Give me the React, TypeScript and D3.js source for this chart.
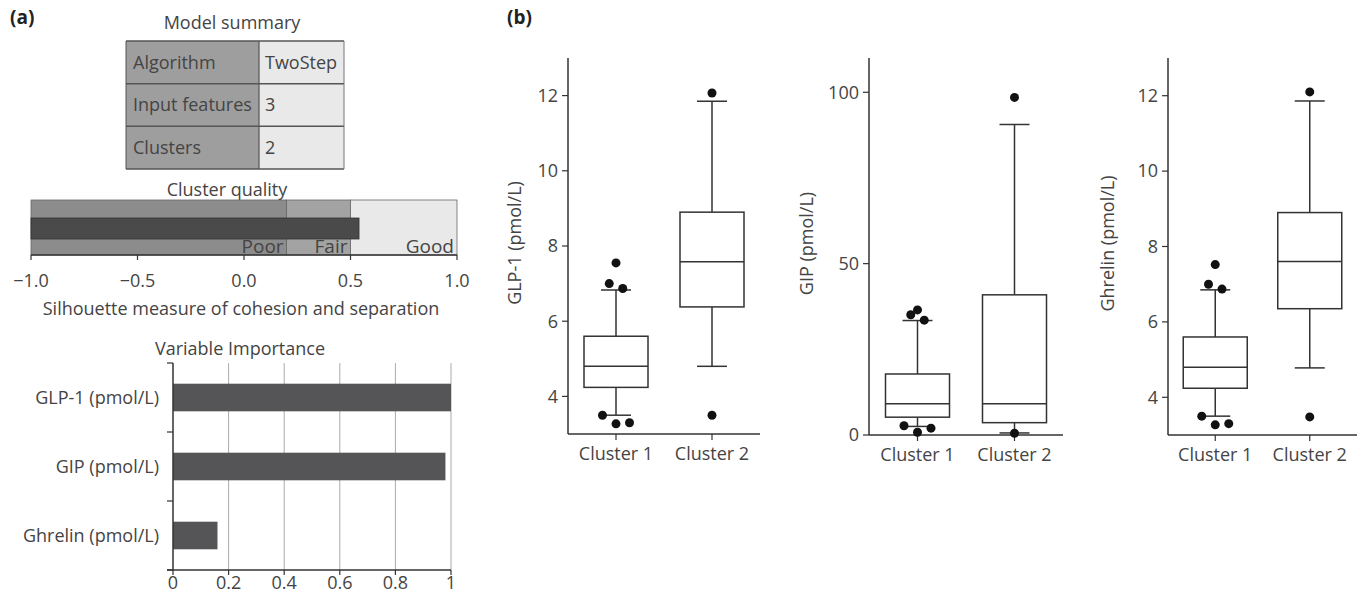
import React from 'react';
import * as d3 from 'd3';

// ---- data ----
const summaryLabels = ['Algorithm', 'Input features', 'Clusters'];
const summaryValues = ['TwoStep', '3', '2'];

const qualityNames = ['Poor', 'Fair', 'Good'];
const qualityLimits = [-1, 0.2, 0.5, 1];
const silhouette = 0.54;
const qualityTicks = [-1, -0.5, 0, 0.5, 1];

const importanceVars = ['GLP-1 (pmol/L)', 'GIP (pmol/L)', 'Ghrelin (pmol/L)'];
const importanceValues = [1, 0.98, 0.16];
const importanceTicks = [0, 0.2, 0.4, 0.6, 0.8, 1];

const clusters = ['Cluster 1', 'Cluster 2'];

// [lower whisker, q1, median, q3, upper whisker]
const glp1Stats = [[3.5, 4.24, 4.8, 5.6, 6.83], [4.8, 6.38, 7.58, 8.9, 11.85]];
const glp1Outliers = [[7.55, 7.0, 6.87, 3.5, 3.27, 3.3], [12.07, 3.5]];
const gipStats = [[2.5, 5.2, 9.1, 17.8, 33.4], [0.6, 3.6, 9.1, 40.9, 90.6]];
const gipOutliers = [[36.5, 35.1, 33.5, 2.7, 0.8, 2.0], [98.5, 0.5]];
const ghrelinStats = [[3.5, 4.24, 4.8, 5.6, 6.85], [4.78, 6.35, 7.6, 8.9, 11.86]];
const ghrelinOutliers = [[7.52, 7.0, 6.87, 3.5, 3.27, 3.3], [12.1, 3.48]];
// horizontal dodge of outlier dots (in dot widths)
const outlierDodge = [[0, -0.75, 0.75, -1.5, 0, 1.5], [0, 0]];

const font = '"Open Sans", "DejaVu Sans", sans-serif';
const ink = '#444';
const line = '#333';
const fs = 18;

function ModelSummary() {
  const x0 = 126, x1 = 259, x2 = 344;
  const y = d3.scaleBand().domain(summaryLabels).range([41, 169]);
  return (
    <g>
      <text x={232} y={29} textAnchor="middle" fontSize={fs} fill={ink}>Model summary</text>
      {summaryLabels.map((lab, i) => (
        <g key={lab}>
          <rect x={x0} y={y(lab)} width={x1 - x0} height={y.bandwidth()} fill="#9e9e9e" />
          <rect x={x1} y={y(lab)} width={x2 - x1} height={y.bandwidth()} fill="#e9e9e9" />
          <text x={x0 + 7} y={y(lab)! + y.bandwidth() / 2} dy="0.35em" fontSize={fs} fill={ink}>{lab}</text>
          <text x={x1 + 6} y={y(lab)! + y.bandwidth() / 2} dy="0.35em" fontSize={fs} fill={ink}>{summaryValues[i]}</text>
          <line x1={x0} x2={x2} y1={y(lab)} y2={y(lab)} stroke="#555" strokeWidth={1.5} />
        </g>
      ))}
      <line x1={x0} x2={x2} y1={169} y2={169} stroke="#555" strokeWidth={1.5} />
      <line x1={x0} x2={x0} y1={41} y2={169} stroke="#555" strokeWidth={1} />
      <line x1={x1} x2={x1} y1={41} y2={169} stroke="#555" strokeWidth={1.2} />
      <line x1={x2} x2={x2} y1={41} y2={169} stroke="#777" strokeWidth={1} />
    </g>
  );
}

function ClusterQuality() {
  const x = d3.scaleLinear().domain([-1, 1]).range([31, 457]);
  const top = 200, bottom = 255;
  const bandFill = ['#8c8c8c', '#a3a3a3', '#e9e9e9'];
  const fmt = d3.format('.1f');
  return (
    <g>
      <text x={227} y={196} textAnchor="middle" fontSize={fs} fill={ink}>Cluster quality</text>
      {qualityNames.map((nm, i) => (
        <rect key={nm} x={x(qualityLimits[i])} y={top} width={x(qualityLimits[i + 1]) - x(qualityLimits[i])} height={bottom - top}
          fill={bandFill[i]} stroke="#666" strokeWidth={0.8} />
      ))}
      <rect x={x(-1)} y={218} width={x(silhouette) - x(-1)} height={21} fill="#4a4a4a" stroke="#333" strokeWidth={0.8} />
      {qualityNames.map((nm, i) => (
        <text key={nm} x={x(qualityLimits[i + 1]) - 3} y={253} textAnchor="end" fontSize={fs + 1} fill={ink}>{nm}</text>
      ))}
      <line x1={x(-1)} x2={x(1)} y1={bottom} y2={bottom} stroke={line} strokeWidth={1.5} />
      {qualityTicks.map(t => (
        <g key={t}>
          <line x1={x(t)} x2={x(t)} y1={bottom} y2={bottom + 5} stroke={line} strokeWidth={1.2} />
          <text x={x(t)} y={287} textAnchor="middle" fontSize={fs} fill={ink}>{fmt(t)}</text>
        </g>
      ))}
      <text x={x(0) - 3} y={315} textAnchor="middle" fontSize={fs} fill={ink}>Silhouette measure of cohesion and separation</text>
    </g>
  );
}

function VariableImportance() {
  const x = d3.scaleLinear().domain([0, 1]).range([173, 451]);
  const y = d3.scaleBand().domain(importanceVars).range([363, 570]).paddingInner(0.6).paddingOuter(0.3);
  const step = y.step();
  const fmt = d3.format('~g');
  return (
    <g>
      <text x={240} y={355} textAnchor="middle" fontSize={fs} fill={ink}>Variable Importance</text>
      {importanceTicks.filter(t => t > 0).map(t => (
        <line key={t} x1={x(t)} x2={x(t)} y1={363} y2={570} stroke="#aaa" strokeWidth={1} />
      ))}
      {importanceVars.map((v, i) => (
        <g key={v}>
          <rect x={x(0)} y={y(v)} width={x(importanceValues[i]) - x(0)} height={y.bandwidth()} fill="#555558" />
          <text x={159} y={y(v)! + y.bandwidth() / 2} dy="0.35em" textAnchor="end" fontSize={fs} fill={ink}>{v}</text>
        </g>
      ))}
      {d3.range(importanceVars.length + 1).map(i => (
        <line key={i} x1={167} x2={173} y1={363 + i * step} y2={363 + i * step} stroke={line} strokeWidth={1.2} />
      ))}
      <line x1={x(0)} x2={x(0)} y1={363} y2={570} stroke={line} strokeWidth={1.5} />
      <line x1={167} x2={x(1)} y1={570} y2={570} stroke={line} strokeWidth={1.5} />
      {importanceTicks.map(t => (
        <g key={t}>
          <line x1={x(t)} x2={x(t)} y1={570} y2={575} stroke={line} strokeWidth={1.2} />
          <text x={x(t)} y={589} textAnchor="middle" fontSize={fs} fill={ink}>{fmt(t)}</text>
        </g>
      ))}
    </g>
  );
}

type BoxProps = {
  left: number; right: number; yTop: number; yBottom: number;
  domain: number[]; ticks: number[]; stats: number[][]; outliers: number[][];
  label: string; labelX: number;
};

function BoxPanel({ left, right, yTop, yBottom, domain, ticks, stats, outliers, label, labelX }: BoxProps) {
  const x = d3.scalePoint().domain(clusters).range([left, right]).padding(0.5);
  const y = d3.scaleLinear().domain(domain).range([yBottom, yTop]);
  const boxW = 64, capW = 30, r = 4.5;
  return (
    <g>
      <line x1={left} x2={left} y1={yTop} y2={yBottom} stroke={line} strokeWidth={1.5} />
      <line x1={left} x2={right} y1={yBottom} y2={yBottom} stroke={line} strokeWidth={1.5} />
      {ticks.map(t => (
        <g key={t}>
          <line x1={left - 6} x2={left} y1={y(t)} y2={y(t)} stroke={line} strokeWidth={1.2} />
          <text x={left - 10} y={y(t)} dy="0.35em" textAnchor="end" fontSize={fs} fill={ink}>{t}</text>
        </g>
      ))}
      <text transform={`translate(${labelX},${(yTop + yBottom) / 2 - 3}) rotate(-90)`} textAnchor="middle"
        dy="0.35em" fontSize={fs} fill={ink}>{label}</text>
      {clusters.map((c, i) => {
        const cx = x(c)!;
        const [lw, q1, med, q3, uw] = stats[i];
        return (
          <g key={c}>
            <line x1={cx} x2={cx} y1={yBottom} y2={yBottom + 6} stroke={line} strokeWidth={1.2} />
            <text x={cx} y={yBottom + 20} dy="0.35em" textAnchor="middle" fontSize={fs} fill={ink}>{c}</text>
            <line x1={cx} x2={cx} y1={y(uw)} y2={y(q3)} stroke={line} strokeWidth={1.5} />
            <line x1={cx} x2={cx} y1={y(q1)} y2={y(lw)} stroke={line} strokeWidth={1.5} />
            <line x1={cx - capW / 2} x2={cx + capW / 2} y1={y(uw)} y2={y(uw)} stroke={line} strokeWidth={1.5} />
            <line x1={cx - capW / 2} x2={cx + capW / 2} y1={y(lw)} y2={y(lw)} stroke={line} strokeWidth={1.5} />
            <rect x={cx - boxW / 2} y={y(q3)} width={boxW} height={y(q1) - y(q3)} fill="white" stroke={line} strokeWidth={1.5} />
            <line x1={cx - boxW / 2} x2={cx + boxW / 2} y1={y(med)} y2={y(med)} stroke={line} strokeWidth={1.5} />
            {outliers[i].map((v, j) => (
              <circle key={j} cx={cx + outlierDodge[i][j] * 2 * r} cy={y(v)} r={r} fill="#111" />
            ))}
          </g>
        );
      })}
    </g>
  );
}

export default function App() {
  return (
    <svg width={1367} height={599} style={{ position: 'absolute', left: 0, top: 0, background: 'white' }}
      fontFamily={font}>
      <text x={10} y={24} fontSize={19} fontWeight="bold" fill="#222">(a)</text>
      <text x={507} y={24} fontSize={19} fontWeight="bold" fill="#222">(b)</text>
      <ModelSummary />
      <ClusterQuality />
      <VariableImportance />
      <BoxPanel left={568} right={760} yTop={58} yBottom={434} domain={[3, 13]} ticks={[4, 6, 8, 10, 12]}
        stats={glp1Stats} outliers={glp1Outliers} label="GLP-1 (pmol/L)" labelX={515} />
      <BoxPanel left={869} right={1063} yTop={58} yBottom={435} domain={[0, 110]} ticks={[0, 50, 100]}
        stats={gipStats} outliers={gipOutliers} label="GIP (pmol/L)" labelX={807} />
      <BoxPanel left={1168} right={1357} yTop={58} yBottom={435} domain={[3, 13]} ticks={[4, 6, 8, 10, 12]}
        stats={ghrelinStats} outliers={ghrelinOutliers} label="Ghrelin (pmol/L)" labelX={1108} />
    </svg>
  );
}
